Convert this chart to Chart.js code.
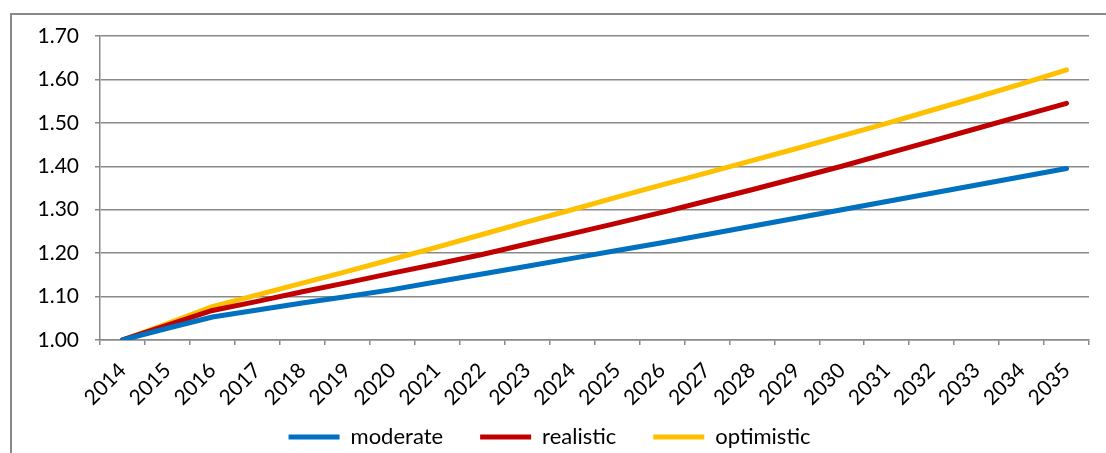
<!DOCTYPE html>
<html>
<head>
<meta charset="utf-8">
<script src="https://cdn.jsdelivr.net/npm/chart.js@4"></script>
<style>
  html, body { margin: 0; padding: 0; background: #fff; }
  #frame { position: absolute; left: 10px; top: 13px; width: 1200px; height: 500px; border: 2px solid #898989; }
  #wrap { position: absolute; left: 0; top: 0; width: 1106px; height: 453px; }
</style>
</head>
<body>
<div id="frame"></div>
<div id="wrap"><canvas id="chart"></canvas></div>
<script>
// years on the x axis
const years = ['2014', '2015', '2016', '2017', '2018', '2019', '2020', '2021', '2022', '2023', '2024',
  '2025', '2026', '2027', '2028', '2029', '2030', '2031', '2032', '2033', '2034', '2035'];

// index values, 2014 = 1.00
const moderate = [1.000, 1.027, 1.053, 1.069, 1.085, 1.100, 1.116, 1.134, 1.152, 1.170, 1.188,
  1.206, 1.224, 1.243, 1.262, 1.281, 1.300, 1.319, 1.338, 1.357, 1.376, 1.395];
const realistic = [1.000, 1.034, 1.068, 1.089, 1.111, 1.132, 1.154, 1.175, 1.197, 1.221, 1.245,
  1.269, 1.294, 1.320, 1.346, 1.373, 1.400, 1.429, 1.458, 1.487, 1.516, 1.545];
const optimistic = [1.000, 1.038, 1.077, 1.104, 1.131, 1.158, 1.186, 1.214, 1.243, 1.272, 1.300,
  1.329, 1.357, 1.385, 1.413, 1.441, 1.470, 1.499, 1.529, 1.559, 1.590, 1.622];

const yMin = 1.0;
const yMax = 1.7;
const yStep = 0.1;

const gridColor = '#898989';
const axisFont = { family: 'Lato, "Liberation Sans", sans-serif', size: 21 };
const legendFont = { family: 'Lato, "Liberation Sans", sans-serif', size: 22 };

function series(label, data, color) {
  return {
    label: label,
    data: data,
    borderColor: color,
    backgroundColor: color,
    borderWidth: 5,
    borderCapStyle: 'round',
    borderJoinStyle: 'round',
    pointRadius: 0,
    tension: 0
  };
}

// legend padding is wide (item spacing), so pull the box top up after layout
const legendLift = {
  id: 'legendLift',
  afterLayout(chart) {
    chart.legend.top -= 21;
  }
};

const ctx = document.getElementById('chart').getContext('2d');
new Chart(ctx, {
  type: 'line',
  data: {
    labels: years,
    datasets: [
      series('moderate', moderate, '#0070C0'),
      series('realistic', realistic, '#C00000'),
      series('optimistic', optimistic, '#FFC000')
    ]
  },
  plugins: [legendLift],
  options: {
    responsive: true,
    maintainAspectRatio: false,
    animation: false,
    layout: { padding: { left: 10, right: 17, top: 36, bottom: 0 } },
    scales: {
      x: {
        offset: true,
        grid: { display: true, drawOnChartArea: false, drawTicks: true, tickLength: 5, color: gridColor, lineWidth: 1.5, offset: true },
        border: { color: gridColor, width: 1.5 },
        ticks: { color: '#000', font: axisFont, minRotation: 45, maxRotation: 45, padding: 13, autoSkip: false },
        afterFit: (scale) => { scale.height = 70; }
      },
      y: {
        min: yMin,
        max: yMax,
        grid: { color: gridColor, lineWidth: 1.5, tickLength: 5 },
        border: { color: gridColor, width: 1.5 },
        ticks: {
          stepSize: yStep,
          color: '#000',
          font: axisFont,
          padding: 16,
          callback: (v) => v.toFixed(2)
        },
        afterFit: (scale) => { scale.width = 90; }
      }
    },
    plugins: {
      legend: {
        position: 'bottom',
        maxHeight: 43,
        labels: {
          color: '#000',
          font: legendFont,
          usePointStyle: true,
          pointStyle: 'line',
          pointStyleWidth: 51,
          padding: 37
        }
      },
      tooltip: { enabled: false }
    }
  }
});
</script>
</body>
</html>
